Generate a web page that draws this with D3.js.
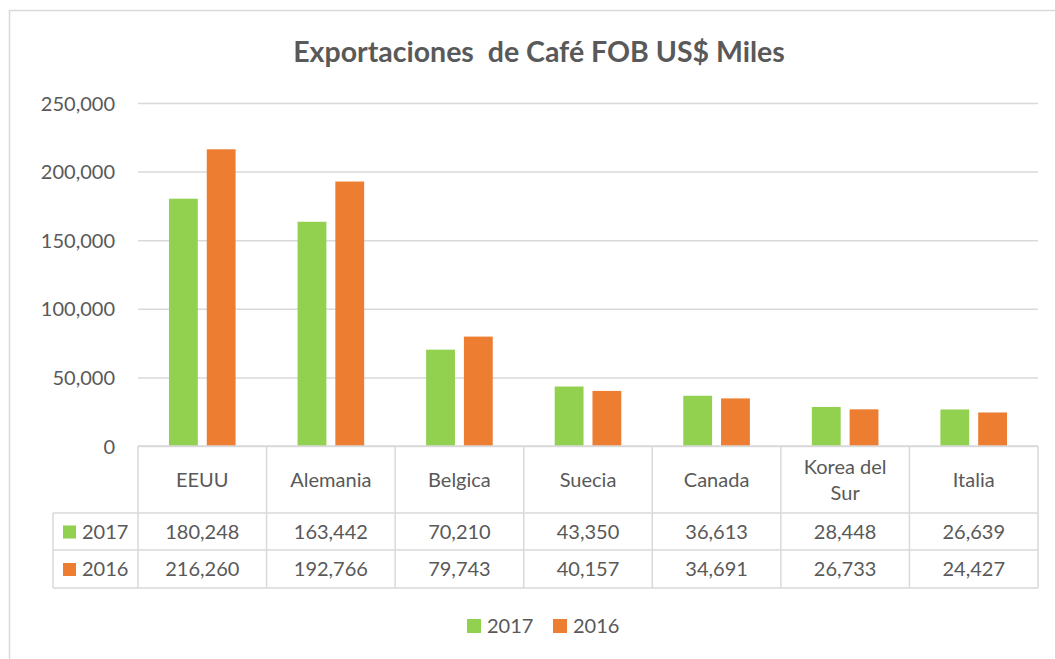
<!DOCTYPE html>
<html>
<head>
<meta charset="utf-8">
<script src="https://cdn.jsdelivr.net/npm/d3@7"></script>
<style>
  html, body { margin: 0; padding: 0; background: #fff; }
  svg text { font-family: Lato, "Open Sans", sans-serif; fill: #595959; }
</style>
</head>
<body>
<svg id="chart" width="1055" height="659"></svg>
<script>
const categories = ["EEUU", "Alemania", "Belgica", "Suecia", "Canada", "Korea del Sur", "Italia"];
const categoryLines = [["EEUU"], ["Alemania"], ["Belgica"], ["Suecia"], ["Canada"], ["Korea del", "Sur"], ["Italia"]];
const seriesNames = ["2017", "2016"];
const values2017 = [180248, 163442, 70210, 43350, 36613, 28448, 26639];
const values2016 = [216260, 192766, 79743, 40157, 34691, 26733, 24427];
const seriesColors = ["#92D050", "#ED7D31"];
const yTicks = [0, 50000, 100000, 150000, 200000, 250000];
const title = "Exportaciones  de Café FOB US$ Miles";

const series = [values2017, values2016];
const svg = d3.select("#chart");
const gridColor = "#D9D9D9";
const fmt = d3.format(",");

// chart border
svg.append("rect").attr("x", 9.5).attr("y", 10.5).attr("width", 1100).attr("height", 700)
  .attr("fill", "none").attr("stroke", gridColor).attr("stroke-width", 1.5);

// title
svg.append("text").attr("x", 539).attr("y", 62).attr("text-anchor", "middle")
  .style("font-size", "28.5px").style("font-weight", "bold").style("white-space", "pre")
  .attr("xml:space", "preserve").text(title);

const plotLeft = 138, plotRight = 1038;
const y = d3.scaleLinear().domain([0, 250000]).range([446, 103]);
const x = d3.scaleBand().domain(categories).range([plotLeft, plotRight]).paddingInner(0).paddingOuter(0);
const xs = d3.scaleBand().domain(seriesNames).range([0, x.bandwidth()]).paddingInner(0.237).paddingOuter(0.82);

// gridlines via axis
const yAxis = d3.axisLeft(y).tickValues(yTicks).tickSize(-(plotRight - plotLeft)).tickFormat(d => fmt(d));
const gy = svg.append("g").attr("transform", `translate(${plotLeft},0)`).call(yAxis);
gy.select(".domain").remove();
gy.selectAll(".tick line").attr("stroke", gridColor).attr("stroke-width", 1.5);
gy.selectAll(".tick text").attr("x", -23).attr("dy", "0.35em")
  .style("font-size", "20px").style("fill", "#595959");

// bars
series.forEach((vals, si) => {
  svg.append("g").selectAll("rect").data(vals).join("rect")
    .attr("x", (d, i) => x(categories[i]) + xs(seriesNames[si]))
    .attr("width", xs.bandwidth())
    .attr("y", d => y(d))
    .attr("height", d => y(0) - y(d))
    .attr("fill", seriesColors[si]);
});

// data table
const t = svg.append("g");
const rowTop = [446, 513, 550, 588];
const lineAttr = sel => sel.attr("stroke", gridColor).attr("stroke-width", 1.5);
const tableLeft = 53;
t.append("line").attr("x1", plotLeft).attr("x2", plotRight).attr("y1", rowTop[0]).attr("y2", rowTop[0]).call(lineAttr);
[1, 2, 3].forEach(r => {
  t.append("line").attr("x1", tableLeft).attr("x2", plotRight).attr("y1", rowTop[r]).attr("y2", rowTop[r]).call(lineAttr);
});
categories.forEach(c => {
  t.append("line").attr("x1", x(c)).attr("x2", x(c)).attr("y1", rowTop[0]).attr("y2", rowTop[3]).call(lineAttr);
});
t.append("line").attr("x1", plotRight).attr("x2", plotRight).attr("y1", rowTop[0]).attr("y2", rowTop[3]).call(lineAttr);
t.append("line").attr("x1", tableLeft).attr("x2", tableLeft).attr("y1", rowTop[1]).attr("y2", rowTop[3]).call(lineAttr);

// header labels
categories.forEach((c, i) => {
  const lines = categoryLines[i];
  const cx = x(c) + x.bandwidth() / 2;
  const mid = (rowTop[0] + rowTop[1]) / 2;
  lines.forEach((ln, k) => {
    t.append("text").attr("x", cx).attr("y", mid + (k - (lines.length - 1) / 2) * 26)
      .attr("dy", "0.35em").attr("text-anchor", "middle").style("font-size", "20px").text(ln);
  });
});
// rows
series.forEach((vals, si) => {
  const mid = (rowTop[si + 1] + rowTop[si + 2]) / 2;
  t.append("rect").attr("x", 63).attr("y", mid - 6).attr("width", 13).attr("height", 13).attr("fill", seriesColors[si]);
  t.append("text").attr("x", 82).attr("y", mid).attr("dy", "0.35em").style("font-size", "20px").text(seriesNames[si]);
  vals.forEach((v, i) => {
    t.append("text").attr("x", x(categories[i]) + x.bandwidth() / 2).attr("y", mid).attr("dy", "0.35em")
      .attr("text-anchor", "middle").style("font-size", "20px").text(fmt(v));
  });
});

// legend
const lg = svg.append("g");
const legendX = [467, 553];
seriesNames.forEach((s, si) => {
  lg.append("rect").attr("x", legendX[si]).attr("y", 619).attr("width", 14).attr("height", 14).attr("fill", seriesColors[si]);
  lg.append("text").attr("x", legendX[si] + 20).attr("y", 626).attr("dy", "0.35em").style("font-size", "20px").text(s);
});
</script>
</body>
</html>
